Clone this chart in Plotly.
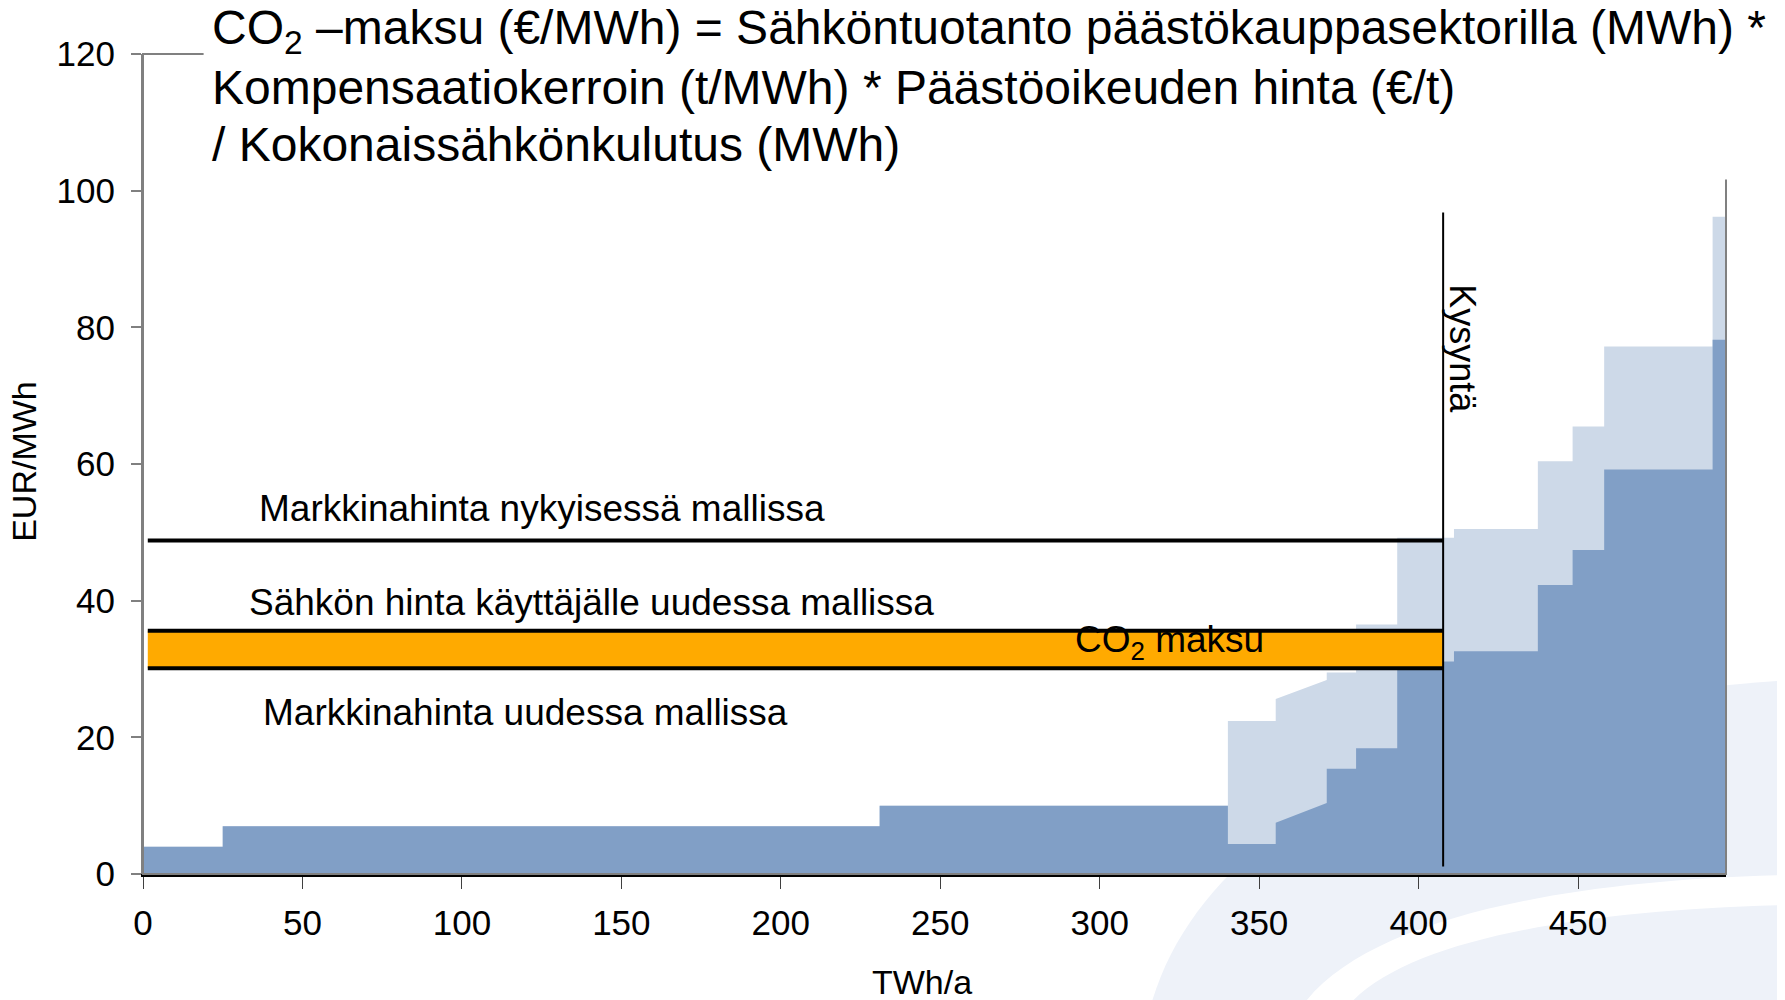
import plotly.graph_objects as go

# ---------------- data ----------------
# supply curve segments (TWh/a)
seg_start = [0, 25, 231, 340.2, 355.2, 371.2, 380.4, 393.3, 411.1, 437.4, 448.3, 458.2, 492.2]
seg_end = [25, 231, 340.2, 355.2, 371.2, 380.4, 393.3, 411.1, 437.4, 448.3, 458.2, 492.2, 496.4]
# market price without CO2 cost (EUR/MWh), start/end of each segment
dark_start = [4.0, 7.0, 10.0, 4.4, 7.5, 15.4, 18.4, 31.1, 32.6, 42.3, 47.4, 59.2, 78.2]
dark_end = [4.0, 7.0, 10.0, 4.4, 10.4, 15.4, 18.4, 31.1, 32.6, 42.3, 47.4, 59.2, 78.2]
# price including emission allowance cost
light_start = [4.0, 7.0, 10.0, 22.4, 25.6, 29.5, 36.5, 49.2, 50.5, 60.4, 65.5, 77.2, 96.2]
light_end = [4.0, 7.0, 10.0, 22.4, 28.4, 29.5, 36.5, 49.2, 50.5, 60.4, 65.5, 77.2, 96.2]

demand = 407.7
demand_y = [1.1, 96.8]
line_start = 1.5
price_current = 48.8      # Markkinahinta nykyisessä mallissa
price_user_new = 35.6     # Sähkön hinta käyttäjälle uudessa mallissa
price_market_new = 30.1   # Markkinahinta uudessa mallissa

x_ticks = [0, 50, 100, 150, 200, 250, 300, 350, 400, 450]
y_ticks = [0, 20, 40, 60, 80, 100, 120]
x_range = [0, 496.4]
y_range = [0, 120]

# ---------------- layout helpers ----------------
OFF = 8  # page body margin
W, H = 1785 - OFF, 1000 - OFF
# plot area in screen pixels
SPL, SPR, SPT, SPB = 143.4, 1726.4, 53.5, 874.0
PL, PR, PT, PB = SPL - OFF, SPR - OFF, SPT - OFF, SPB - OFF


def px(x):
    return (x - OFF - PL) / (PR - PL)


def py(y):
    return (PB - (y - OFF)) / (PB - PT)


def step_xy(starts, ends, v0, v1):
    xs, ys = [], []
    for a, b, p, q in zip(starts, ends, v0, v1):
        xs += [a, b]
        ys += [p, q]
    return xs, ys


DARK = "#819FC6"
LIGHT = "#CDD9E8"
ORANGE = "#FFAA00"
FONT = "Arial, Liberation Sans, sans-serif"

fig = go.Figure()

lx, ly = step_xy(seg_start, seg_end, light_start, light_end)
fig.add_trace(go.Scatter(x=lx, y=ly, mode="lines", line=dict(width=0, color=LIGHT),
                         fill="tozeroy", fillcolor=LIGHT, hoverinfo="skip", showlegend=False))
dx, dy = step_xy(seg_start, seg_end, dark_start, dark_end)
fig.add_trace(go.Scatter(x=dx, y=dy, mode="lines", line=dict(width=0, color=DARK),
                         fill="tozeroy", fillcolor=DARK, hoverinfo="skip", showlegend=False))

# orange CO2 band
fig.add_trace(go.Scatter(x=[line_start, demand, demand, line_start, line_start],
                         y=[price_market_new, price_market_new, price_user_new, price_user_new, price_market_new],
                         mode="lines", line=dict(width=0), fill="toself", fillcolor=ORANGE,
                         hoverinfo="skip", showlegend=False))
for lvl in [price_current, price_user_new, price_market_new]:
    fig.add_trace(go.Scatter(x=[line_start, demand], y=[lvl, lvl], mode="lines",
                             line=dict(color="black", width=4), hoverinfo="skip", showlegend=False))

# demand line
fig.add_trace(go.Scatter(x=[demand, demand], y=demand_y, mode="lines",
                         line=dict(color="black", width=2), hoverinfo="skip", showlegend=False))

shapes = []
# watermark arcs (bottom right)
shapes.append(dict(type="path", xref="paper", yref="paper", layer="below",
                   path="M {:.4f},{:.4f} C {:.4f},{:.4f} {:.4f},{:.4f} {:.4f},{:.4f} L {:.4f},{:.4f} L {:.4f},{:.4f} Z".format(
                       px(1150), py(1010), px(1200), py(820), px(1450), py(700), px(1790), py(680),
                       px(1790), py(1010), px(1150), py(1010)),
                   fillcolor="#EEF2F9", line=dict(width=0)))
shapes.append(dict(type="path", xref="paper", yref="paper", layer="below",
                   path="M {:.4f},{:.4f} C {:.4f},{:.4f} {:.4f},{:.4f} {:.4f},{:.4f} L {:.4f},{:.4f} C {:.4f},{:.4f} {:.4f},{:.4f} {:.4f},{:.4f} Z".format(
                       px(1300), py(1010), px(1360), py(920), px(1560), py(880), px(1790), py(875),
                       px(1790), py(905), px(1580), py(910), px(1400), py(940), px(1345), py(1010)),
                   fillcolor="white", line=dict(width=0)))
# frame
shapes.append(dict(type="rect", xref="paper", yref="paper", x0=0, x1=1, y0=0, y1=1,
                   line=dict(color="#808080", width=2), layer="above"))
# white box behind title (covers frame top)
shapes.append(dict(type="rect", xref="paper", yref="paper", x0=px(204), x1=px(1790), y0=py(179), y1=py(0),
                   fillcolor="white", line=dict(width=0), layer="above"))

ann = []
title_lines = [
    "CO<sub>2</sub> –maksu (€/MWh) = Sähköntuotanto päästökauppasektorilla (MWh) *",
    "Kompensaatiokerroin (t/MWh) * Päästöoikeuden hinta (€/t)",
    "/ Kokonaissähkönkulutus (MWh)",
]
title_y = [30, 87, 144]
for t, yy in zip(title_lines, title_y):
    ann.append(dict(text=t, xref="paper", yref="paper", x=px(210), y=py(yy), xanchor="left",
                    yanchor="middle", showarrow=False, font=dict(size=48, color="black", family=FONT)))

labels = [
    ("Markkinahinta nykyisessä mallissa", 125.2, 53.5),
    ("Sähkön hinta käyttäjälle uudessa mallissa", 140.7, 39.7),
    ("Markkinahinta uudessa mallissa", 120.0, 23.6),
    ("CO<sub>2</sub> maksu", 321.8, 34.0),
]
for t, xx, yy in labels:
    ann.append(dict(text=t, x=xx, y=yy, xref="x", yref="y", showarrow=False,
                    xanchor="center", yanchor="middle", font=dict(size=37, color="black", family=FONT)))
ann.append(dict(text="Kysyntä", x=413.9, y=76.8, xref="x", yref="y", showarrow=False, textangle=90,
                xanchor="center", yanchor="middle",
                font=dict(size=36, color="black", family=FONT)))
ann.append(dict(text="EUR/MWh", xref="paper", yref="paper", x=px(25), y=py(461), showarrow=False,
                xanchor="center", yanchor="middle",
                textangle=-90, font=dict(size=34, color="black", family=FONT)))
ann.append(dict(text="TWh/a", xref="paper", yref="paper", x=px(922), y=py(982), showarrow=False,
                xanchor="center", yanchor="middle",
                font=dict(size=34, color="black", family=FONT)))

fig.update_layout(
    width=W, height=H,
    margin=dict(l=PL, r=W - PR, t=PT, b=H - PB, pad=0),
    paper_bgcolor="white", plot_bgcolor="rgba(0,0,0,0)",
    shapes=shapes, annotations=ann, showlegend=False,
    font=dict(family=FONT, color="black"),
)
fig.update_xaxes(range=x_range, tickvals=x_ticks, ticktext=[str(v) for v in x_ticks],
                 showgrid=False, zeroline=False, showline=True, linecolor="black", linewidth=2.5,
                 ticks="outside", ticklen=12, tickcolor="#404040", tickwidth=1,
                 tickfont=dict(size=35, family=FONT, color="black"), ticklabelstandoff=4)
fig.update_yaxes(range=y_range, tickvals=y_ticks, ticktext=[str(v) for v in y_ticks],
                 showgrid=False, zeroline=False, showline=True, linecolor="#808080", linewidth=2,
                 ticks="outside", ticklen=10, tickcolor="#808080", tickwidth=2,
                 tickfont=dict(size=35, family=FONT, color="black"), ticklabelstandoff=9)

fig.write_html("out.html")
